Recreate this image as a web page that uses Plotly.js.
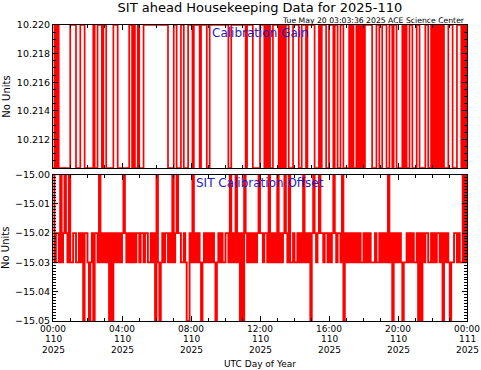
<!DOCTYPE html>
<html>
<head>
<meta charset="utf-8">
<script src="https://cdn.plot.ly/plotly-3.0.1.min.js"></script>
<style>html,body{margin:0;padding:0;background:#fff;}#chart{width:481px;height:370px;}</style>
</head>
<body>
<div id="chart"></div>
<script>
// ---- Data ----
// Calibration Gain: minutes of day (2025-110) at which the level changes, and the level from then on
const gainMinutes = [
  0,5,10,15,20,60,80,95,110,140,
  145,155,170,175,185,210,225,265,275,280,
  285,295,300,315,400,420,430,445,455,470,
  485,490,510,515,535,545,610,620,670,675,
  695,720,735,740,745,750,755,765,785,790,
  795,800,805,810,820,835,855,865,880,885,
  910,925,930,935,950,960,975,980,990,1000,
  1010,1030,1035,1040,1045,1055,1060,1065,1070,1075,
  1080,1085,1110,1125,1135,1145,1160,1170,1180,1185,
  1195,1215,1220,1225,1230,1240,1250,1265,1275,1295,
  1305,1315,1320,1325,1330,1335,1340,1345,1350,1355,
  1360,1375,1390,1405,1420,1425,1430,1435,1440
];
const gainValues = [
  10.21,10.22,10.21,10.22,10.21,10.22,10.21,10.22,10.21,10.22,
  10.21,10.22,10.21,10.22,10.21,10.22,10.21,10.22,10.21,10.22,
  10.21,10.22,10.21,10.22,10.21,10.22,10.21,10.22,10.21,10.22,
  10.21,10.22,10.21,10.22,10.21,10.22,10.21,10.22,10.21,10.22,
  10.21,10.22,10.21,10.22,10.21,10.22,10.21,10.22,10.21,10.22,
  10.21,10.22,10.21,10.22,10.21,10.22,10.21,10.22,10.21,10.22,
  10.21,10.22,10.21,10.22,10.21,10.22,10.21,10.22,10.21,10.22,
  10.21,10.22,10.21,10.22,10.21,10.22,10.21,10.22,10.21,10.22,
  10.21,10.22,10.21,10.22,10.21,10.22,10.21,10.22,10.21,10.22,
  10.21,10.22,10.21,10.22,10.21,10.22,10.21,10.22,10.21,10.22,
  10.21,10.22,10.21,10.22,10.21,10.22,10.21,10.22,10.21,10.22,
  10.21,10.22,10.21,10.22,10.21,10.22,10.21,10.22,10.21
];

// SIT Calibration Offset: one sample every 5 minutes from 00:00 (day 110) to 00:00 (day 111)
const offsetSampleMinutes = 5;
const offsetValues = [
  -15.00,-15.03,-15.02,-15.02,-15.03,-15.00,-15.03,-15.02,-15.00,-15.02,
  -15.03,-15.00,-15.03,-15.03,-15.02,-15.02,-15.03,-15.03,-15.02,-15.03,
  -15.02,-15.05,-15.02,-15.02,-15.03,-15.05,-15.03,-15.02,-15.05,-15.02,
  -15.02,-15.03,-15.00,-15.03,-15.02,-15.03,-15.02,-15.03,-15.02,-15.05,
  -15.02,-15.05,-15.02,-15.03,-15.02,-15.03,-15.02,-15.03,-15.02,-15.00,
  -15.02,-15.03,-15.02,-15.03,-15.02,-15.03,-15.02,-15.03,-15.02,-15.02,
  -15.03,-15.02,-15.02,-15.03,-15.02,-15.02,-15.03,-15.03,-15.02,-15.03,
  -15.02,-15.05,-15.00,-15.03,-15.05,-15.03,-15.02,-15.03,-15.02,-15.02,
  -15.03,-15.02,-15.03,-15.00,-15.03,-15.02,-15.00,-15.02,-15.02,-15.03,
  -15.03,-15.02,-15.03,-15.05,-15.05,-15.02,-15.03,-15.00,-15.03,-15.02,
  -15.03,-15.02,-15.03,-15.05,-15.03,-15.02,-15.03,-15.02,-15.03,-15.02,
  -15.03,-15.02,-15.03,-15.05,-15.03,-15.02,-15.03,-15.02,-15.03,-15.03,
  -15.02,-15.02,-15.03,-15.00,-15.03,-15.02,-15.03,-15.00,-15.03,-15.02,
  -15.05,-15.02,-15.05,-15.00,-15.02,-15.03,-15.02,-15.03,-15.02,-15.03,
  -15.02,-15.03,-15.02,-15.00,-15.02,-15.02,-15.03,-15.02,-15.02,-15.03,
  -15.00,-15.03,-15.02,-15.03,-15.02,-15.03,-15.00,-15.03,-15.02,-15.03,
  -15.02,-15.00,-15.02,-15.03,-15.00,-15.03,-15.03,-15.02,-15.03,-15.03,
  -15.02,-15.03,-15.02,-15.03,-15.00,-15.03,-15.02,-15.03,-15.02,-15.05,
  -15.02,-15.00,-15.02,-15.03,-15.02,-15.00,-15.02,-15.02,-15.03,-15.02,
  -15.02,-15.03,-15.02,-15.03,-15.02,-15.00,-15.02,-15.03,-15.02,-15.02,
  -15.03,-15.00,-15.05,-15.02,-15.03,-15.02,-15.03,-15.02,-15.03,-15.02,
  -15.03,-15.02,-15.03,-15.02,-15.03,-15.03,-15.02,-15.03,-15.02,-15.03,
  -15.02,-15.03,-15.03,-15.03,-15.02,-15.03,-15.03,-15.02,-15.03,-15.02,
  -15.03,-15.02,-15.03,-15.00,-15.03,-15.02,-15.05,-15.02,-15.03,-15.02,
  -15.03,-15.02,-15.03,-15.05,-15.03,-15.03,-15.02,-15.03,-15.02,-15.03,
  -15.02,-15.03,-15.03,-15.02,-15.05,-15.02,-15.05,-15.02,-15.03,-15.02,
  -15.02,-15.03,-15.03,-15.02,-15.03,-15.02,-15.03,-15.02,-15.02,-15.03,
  -15.02,-15.05,-15.02,-15.03,-15.02,-15.03,-15.05,-15.03,-15.03,-15.02,
  -15.02,-15.03,-15.02,-15.03,-15.03,-15.00,-15.03,-15.00,-15.03
];

// Axis ticks
const timeTickMinutes = [0, 240, 480, 720, 960, 1200, 1440];
const timeTickClock = ['00:00', '04:00', '08:00', '12:00', '16:00', '20:00', '00:00'];
const timeTickDay = ['110', '110', '110', '110', '110', '110', '111'];
const timeTickYear = ['2025', '2025', '2025', '2025', '2025', '2025', '2025'];
const gainTickVals = [10.210, 10.212, 10.214, 10.216, 10.218, 10.220];
const gainTickText = ['', '10.212', '10.214', '10.216', '10.218', '10.220'];
const offsetTickVals = [-15.05, -15.04, -15.03, -15.02, -15.01, -15.00];
const offsetTickText = ['\u221215.05', '\u221215.04', '\u221215.03', '\u221215.02', '\u221215.01', '\u221215.00'];

// ---- Chart ----
const offsetMinutes = offsetValues.map((_, i) => i * offsetSampleMinutes);
const FONT = 'DejaVu Sans, sans-serif';
const RED = 'rgb(255,0,0)';
const BLUE = 'rgb(30,30,185)';

const traces = [
  {x: gainMinutes, y: gainValues, xaxis: 'x2', yaxis: 'y2', type: 'scatter', mode: 'lines',
   line: {color: RED, width: 1.7, shape: 'hv', simplify: false}, hoverinfo: 'skip', showlegend: false},
  {x: offsetMinutes, y: offsetValues, xaxis: 'x', yaxis: 'y', type: 'scatter', mode: 'lines',
   line: {color: RED, width: 1.9, shape: 'hv', simplify: false}, hoverinfo: 'skip', showlegend: false}
];

const H = 296; // plot-area height in px (top 25 -> bottom 321)
const px2paper = p => (321 - p) / H;

const xCommon = {
  range: [0, 1440], tickmode: 'array', tickvals: timeTickMinutes, showticklabels: false,
  ticks: 'inside', ticklen: 5, tickwidth: 1, tickcolor: '#000', mirror: 'ticks',
  showline: true, linecolor: '#000', linewidth: 1, showgrid: false, zeroline: false,
  minor: {tickmode: 'linear', tick0: 0, dtick: 60, ticks: 'inside', ticklen: 3, tickcolor: '#000', showgrid: false},
  fixedrange: true
};
const yCommon = {
  ticks: 'inside', ticklen: 5, tickwidth: 1, tickcolor: '#000', mirror: 'ticks',
  showline: true, linecolor: '#000', linewidth: 1, showgrid: false, zeroline: false,
  tickfont: {family: FONT, size: 9.5, color: '#000'}, tickmode: 'array', fixedrange: true
};

const annotations = [
  {text: 'Tue May 20 03:03:36 2025 ACE Science Center', xref: 'paper', yref: 'paper',
   x: 1, xanchor: 'right', y: px2paper(20), yanchor: 'middle', showarrow: false,
   font: {family: FONT, size: 7.7, color: '#000'}},
  {text: 'Calibration Gain', xref: 'paper', yref: 'paper', x: 0.5, xanchor: 'center',
   y: px2paper(33), yanchor: 'middle', showarrow: false, font: {family: FONT, size: 12, color: BLUE}},
  {text: 'SIT Calibration Offset', xref: 'paper', yref: 'paper', x: 0.5, xanchor: 'center',
   y: px2paper(182.7), yanchor: 'middle', showarrow: false, font: {family: FONT, size: 12, color: BLUE}}
];
const tickRows = [timeTickClock, timeTickDay, timeTickYear];
const tickRowY = [328.6, 339.3, 350.0];
tickRows.forEach((row, r) => {
  row.forEach((txt, i) => {
    annotations.push({text: txt, xref: 'x', yref: 'paper', x: timeTickMinutes[i], xanchor: 'center',
      y: px2paper(tickRowY[r]), yanchor: 'middle', showarrow: false,
      font: {family: FONT, size: 9, color: '#000'}});
  });
});

const layout = {
  width: 481, height: 370,
  margin: {l: 53, r: 14, t: 25, b: 49, pad: 0},
  paper_bgcolor: '#fff', plot_bgcolor: '#fff',
  font: {family: FONT, color: '#000'},
  title: {text: 'SIT ahead Housekeeping Data for 2025-110', font: {family: FONT, size: 13, color: '#000'},
          x: 0.5, xref: 'paper', xanchor: 'center', y: 1 - 7.5 / 370, yref: 'container', yanchor: 'middle'},
  showlegend: false,
  xaxis: Object.assign({}, xCommon, {anchor: 'y', domain: [0, 1],
    title: {text: 'UTC Day of Year', font: {family: FONT, size: 9, color: '#000'}, standoff: 39}}),
  xaxis2: Object.assign({}, xCommon, {anchor: 'y2', domain: [0, 1], matches: 'x'}),
  yaxis: Object.assign({}, yCommon, {anchor: 'x', domain: [0, px2paper(174.5)], range: [-15.05, -15.00],
    tickvals: offsetTickVals, ticktext: offsetTickText,
    minor: {tickmode: 'linear', tick0: -15.05, dtick: 0.001, ticks: 'inside', ticklen: 3, tickcolor: '#000', showgrid: false},
    title: {text: 'No Units', font: {family: FONT, size: 10, color: '#000'}, standoff: 4}}),
  yaxis2: Object.assign({}, yCommon, {anchor: 'x2', domain: [px2paper(168), 1], range: [10.210, 10.220],
    tickvals: gainTickVals, ticktext: gainTickText,
    minor: {tickmode: 'linear', tick0: 10.210, dtick: 0.0005, ticks: 'inside', ticklen: 3, tickcolor: '#000', showgrid: false},
    title: {text: 'No Units', font: {family: FONT, size: 10, color: '#000'}, standoff: 4}}),
  annotations: annotations
};

Plotly.newPlot('chart', traces, layout, {staticPlot: true, displayModeBar: false});
</script>
</body>
</html>
